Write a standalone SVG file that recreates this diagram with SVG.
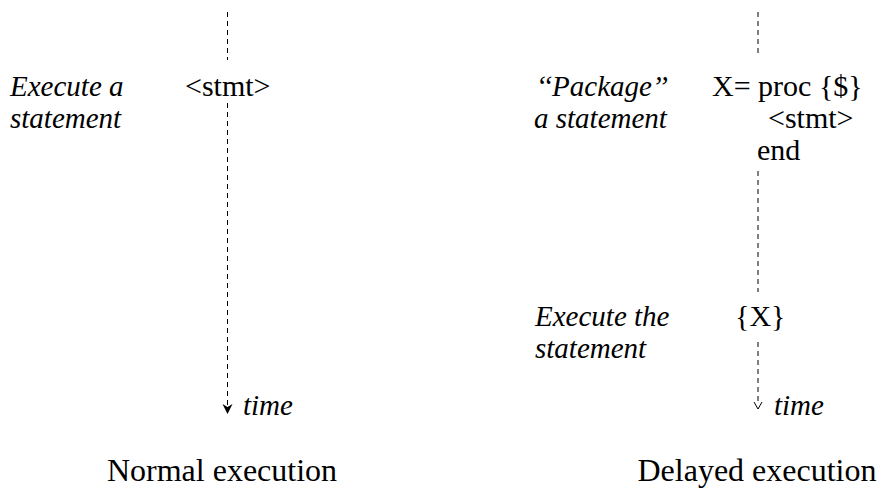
<svg xmlns="http://www.w3.org/2000/svg" width="884" height="488" viewBox="0 0 884 488">
<style>
text{fill:#000}
.it{font-style:italic;font-size:29px}
.code{font-size:30px}
.cap{font-size:32px;text-anchor:middle}
.dl{fill:none;stroke:#000;stroke-width:1;stroke-dasharray:5 4}
</style>
<rect width="884" height="488" fill="#fff"/>
<g id="connectors">
<path class="dl" d="M227.5,12V60M227.5,103V406"/>
<path d="M222.5,404L227.5,414L232.5,404L227.5,407Z" fill="#000"/>
<path class="dl" d="M758,12V57M758,171V292M758,342V402"/>
<path d="M754,402L758,409L762,402" fill="none" stroke="#000" stroke-width="1"/>
</g>
<g id="normal-label"><text class="it" font-family="Liberation Serif" x="10" y="96">Execute a</text><text class="it" font-family="Liberation Serif" x="10" y="128">statement</text></g>
<g id="normal-stmt"><text class="code" font-family="Liberation Serif" x="185" y="96">&lt;stmt&gt;</text></g>
<g id="normal-time"><text class="it" font-family="Liberation Serif" x="243" y="415">time</text></g>
<g id="normal-caption"><text class="cap" font-family="Liberation Serif" x="222" y="481">Normal execution</text></g>
<g id="package-label"><text class="it" font-family="Liberation Serif" x="536" y="96">‘‘Package’’</text><text class="it" font-family="Liberation Serif" x="534" y="128">a statement</text></g>
<g id="package-code"><text class="code" font-family="Liberation Serif" x="712" y="96">X= proc {$}</text><text class="code" font-family="Liberation Serif" x="768" y="128">&lt;stmt&gt;</text><text class="code" font-family="Liberation Serif" x="757" y="160">end</text></g>
<g id="execute-label"><text class="it" font-family="Liberation Serif" x="535" y="326">Execute the</text><text class="it" font-family="Liberation Serif" x="535" y="358">statement</text></g>
<g id="execute-code"><text class="code" font-family="Liberation Serif" x="735" y="326">{X}</text></g>
<g id="delayed-time"><text class="it" font-family="Liberation Serif" x="774" y="415">time</text></g>
<g id="delayed-caption"><text class="cap" font-family="Liberation Serif" x="757" y="481">Delayed execution</text></g>
</svg>
